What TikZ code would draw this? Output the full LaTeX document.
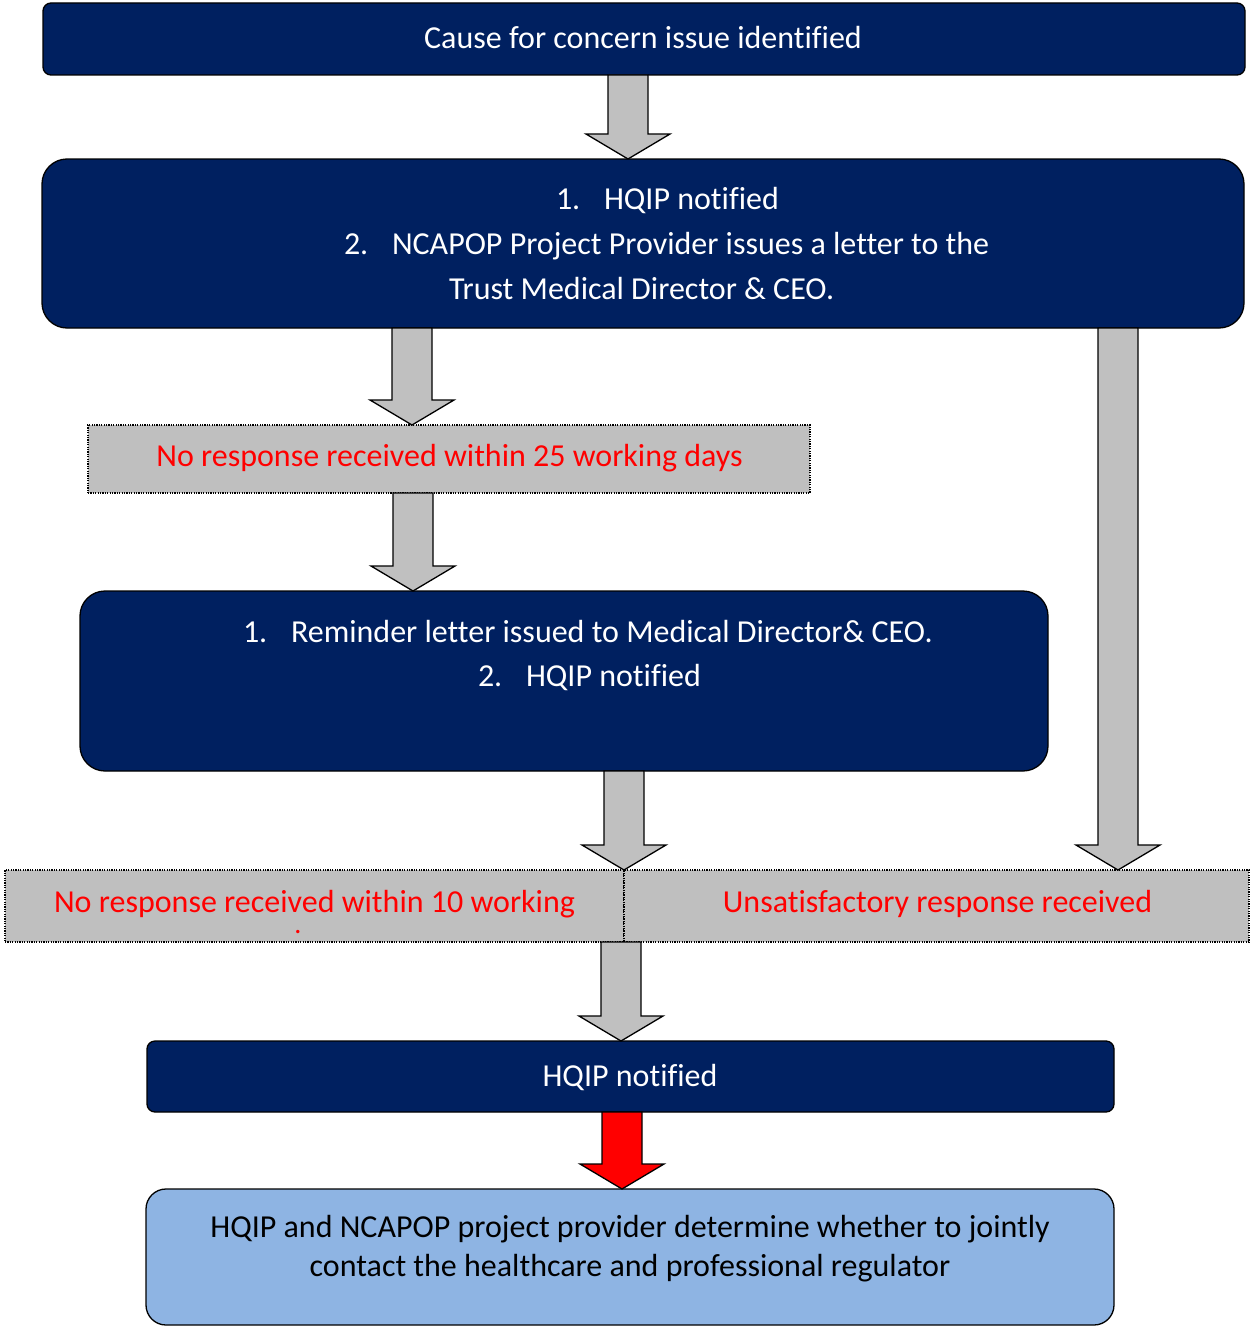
\documentclass[tikz,border=0pt]{standalone}
\usepackage{fontspec}
\setmainfont[Ligatures=NoCommon]{Carlito}
\usetikzlibrary{calc}
\definecolor{navy}{HTML}{002060}
\definecolor{ggray}{HTML}{BFBFBF}
\definecolor{agray}{HTML}{C0C0C0}
\definecolor{lblue}{HTML}{8EB4E3}
\tikzset{
  boxbase/.style={anchor=north west, inner sep=0pt, outer sep=0pt, line width=1.3pt, draw=black},
  navybox/.style={boxbase, fill=navy, rounded corners=#1},
  graybox/.style={boxbase, fill=ggray, dash pattern=on 1.2pt off 1.2pt},
  bluebox/.style={boxbase, fill=lblue, rounded corners=20pt},
  txt/.style={inner sep=0pt, outer sep=0pt, font=\fontsize{32}{38}\selectfont},
  wtxt/.style={txt, text=white},
  rtxt/.style={txt, text=red},
  btxt/.style={txt, text=black},
  grayarrow/.style={draw=black, line width=1.3pt, fill=agray, line join=miter},
  redarrow/.style={draw=black, line width=1.3pt, fill=red, line join=miter},
}
\newcommand\blockarrow[4]{%
  \draw[#1] let \p1=(#2,0 |- #3.south), \p2=(#2,0 |- #4.north) in
    (\x1-20pt,\y1) -- (\x1+20pt,\y1) -- (\x1+20pt,\y2+25pt) -- (\x1+42pt,\y2+25pt)
    -- (\x1,\y2) -- (\x1-42pt,\y2+25pt) -- (\x1-20pt,\y2+25pt) -- cycle;}
\begin{document}
\begin{tikzpicture}[x=1pt,y=-1pt]
\useasboundingbox (0,0) rectangle (1250,1327);
% boxes
\node[navybox=8pt, minimum width=1202pt, minimum height=72pt] (top) at (43,3) {};
\node[navybox=25pt, minimum width=1202pt, minimum height=169pt] (two) at (42,159) {};
\node[graybox, minimum width=722pt, minimum height=68pt] (g1) at (88,425) {};
\node[navybox=25pt, minimum width=968pt, minimum height=180pt] (three) at (80,591) {};
\node[graybox, minimum width=619pt, minimum height=72pt] (gl) at (5,870) {};
\node[graybox, minimum width=625pt, minimum height=72pt] (gr) at (624,870) {};
\node[navybox=8pt, minimum width=967pt, minimum height=71pt] (hq) at (147,1041) {};
\node[bluebox, minimum width=968pt, minimum height=136pt] (fin) at (146,1189) {};
% arrows
\blockarrow{grayarrow}{628}{top}{two}
\blockarrow{grayarrow}{412}{two}{g1}
\blockarrow{grayarrow}{413}{g1}{three}
\blockarrow{grayarrow}{624}{three}{gl}
\blockarrow{grayarrow}{1118}{two}{gr}
\blockarrow{grayarrow}{621}{gl}{hq}
\blockarrow{redarrow}{622}{hq}{fin}
% texts
\node[wtxt, anchor=base] (t0) at (643,49) {Cause for concern issue identified};
\node[wtxt, anchor=base west] (t1n) at (556,209) {1.};
\node[wtxt, anchor=base west] (t1) at (604,209) {HQIP notified};
\node[wtxt, anchor=base west] (t2n) at (344,254) {2.};
\node[wtxt, anchor=base west] (t2) at (392,254) {NCAPOP Project Provider issues a letter to the};
\node[wtxt, anchor=base west] (t3) at (449,299) {Trust Medical Director \& CEO.};
\node[rtxt, anchor=base] (tg1) at (449.5,466) {No response received within 25 working days};
\node[wtxt, anchor=base west] (r1n) at (243,642) {1.};
\node[wtxt, anchor=base west] (r1) at (291,642) {Reminder letter issued to Medical Director\& CEO.};
\node[wtxt, anchor=base west] (r2n) at (478,686) {2.};
\node[wtxt, anchor=base west] (r2) at (526,686) {HQIP notified};
\node[rtxt, anchor=base] (tgl) at (314.5,912) {No response received within 10 working};
\node[rtxt, anchor=base, text height=4pt, text depth=0pt, font=\fontsize{28}{32}\selectfont] (tdot) at (298,933) {.};
\node[rtxt, anchor=base] (tgr) at (937.5,912) {Unsatisfactory response received};
\node[wtxt, anchor=base] (thq) at (630,1086) {HQIP notified};
\node[btxt, anchor=base] (tf1) at (630,1237) {HQIP and NCAPOP project provider determine whether to jointly};
\node[btxt, anchor=base] (tf2) at (630,1276) {contact the healthcare and professional regulator};
\end{tikzpicture}
\end{document}
